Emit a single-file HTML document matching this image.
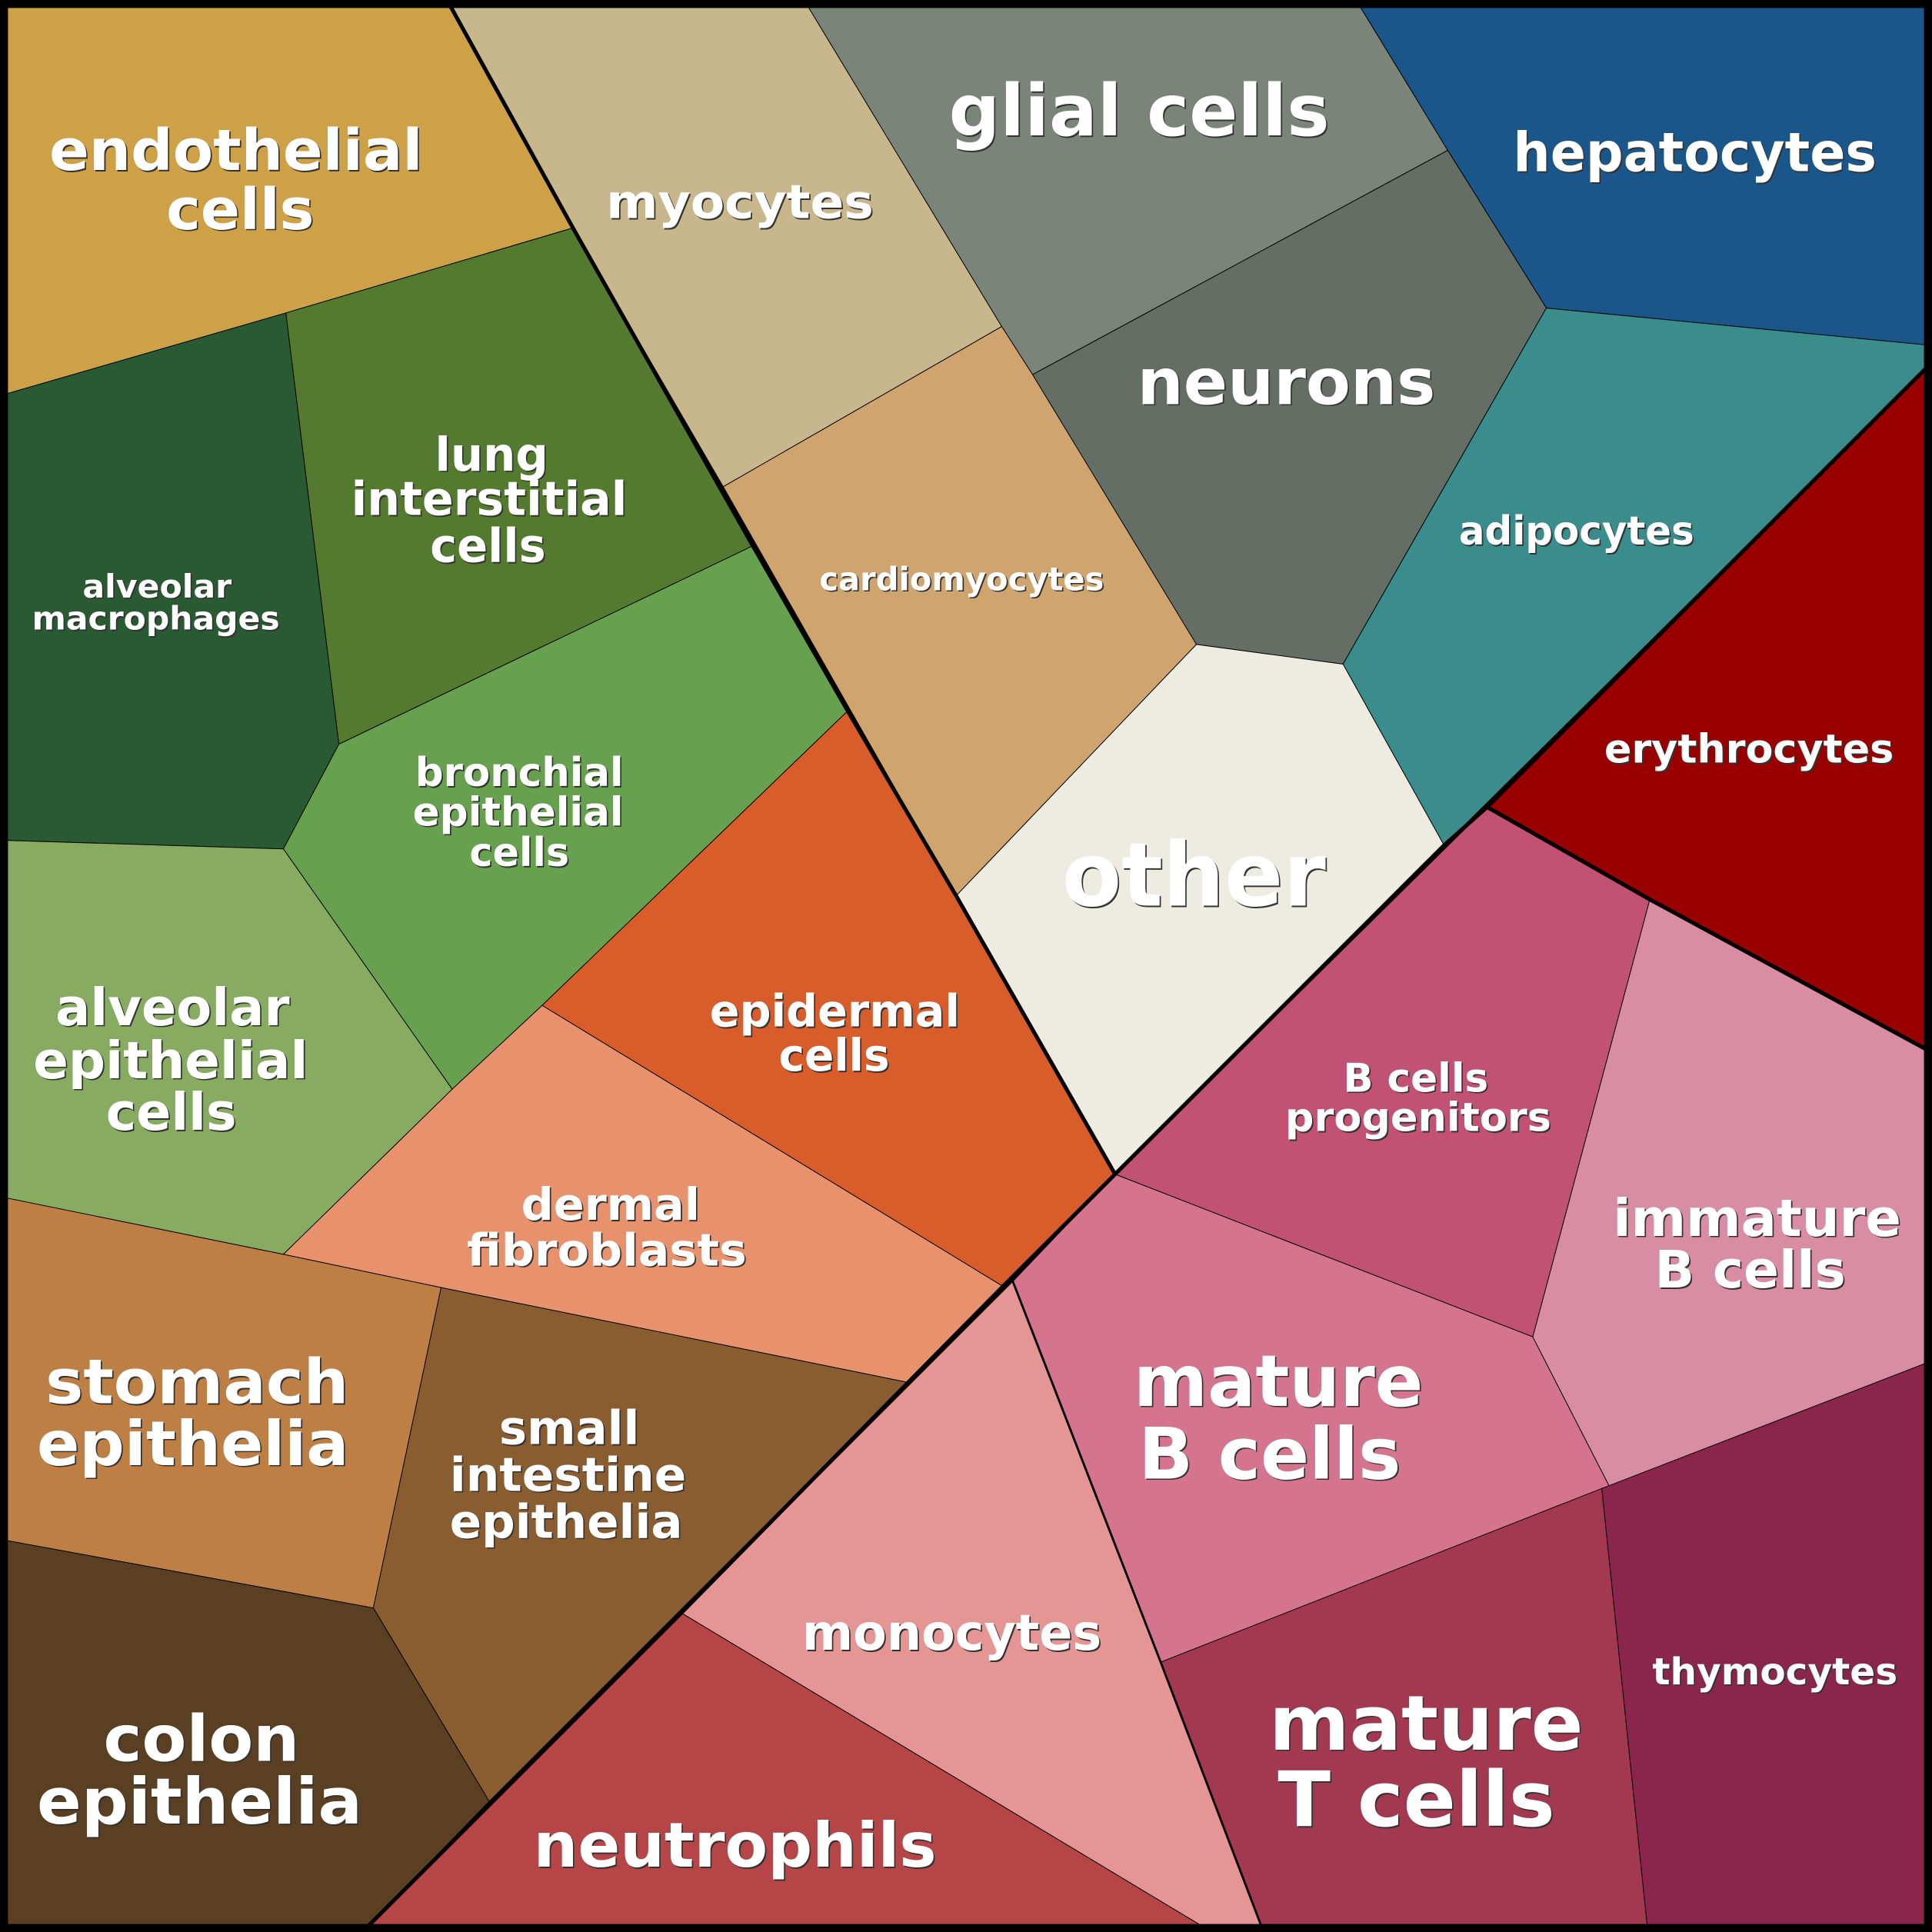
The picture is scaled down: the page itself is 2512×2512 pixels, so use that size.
<!DOCTYPE html>
<html><head><meta charset="utf-8"><style>
html,body{margin:0;padding:0;background:#000}
svg{display:block}
text{font-family:"DejaVu Sans","Liberation Sans",sans-serif;font-weight:bold;text-anchor:start}
</style></head><body>
<svg width="2512" height="2512" viewBox="0 0 1568 1568" xmlns="http://www.w3.org/2000/svg">
<g stroke="#000" stroke-width="0.6" stroke-linejoin="round">
<polygon fill="#cfa147" points="4,4 365,4 465,185 232,254 4,320"/>
<polygon fill="#c8b68c" points="365,4 655,4 813,265 587,395 465,185"/>
<polygon fill="#7b8479" points="655,4 1103,4 1175,122 838,304 813,265"/>
<polygon fill="#1a568a" points="1103,4 1564,4 1564,280 1255,250 1175,122"/>
<polygon fill="#646e64" points="1175,122 1255,250 1090,539 971,523 838,304"/>
<polygon fill="#3a8d8c" points="1255,250 1564,280 1564,298 1172,686 1090,539"/>
<polygon fill="#980000" points="1564,298 1207,655 1339,730 1564,852"/>
<polygon fill="#cfa46f" points="813,265 838,304 971,523 776,727 587,395"/>
<polygon fill="#eeece1" points="971,523 1090,539 1172,686 905,953 776,727"/>
<polygon fill="#547a2f" points="232,254 465,185 611,443 275,604"/>
<polygon fill="#2a5a32" points="4,320 232,254 275,604 230,689 4,682"/>
<polygon fill="#67a150" points="275,604 611,443 688,577 440,816 367,884 230,689"/>
<polygon fill="#87ac61" points="4,682 230,689 367,884 230,1018 4,972"/>
<polygon fill="#d95d2a" points="688,577 776,727 905,953 814,1044 440,816"/>
<polygon fill="#e8916d" points="440,816 814,1044 737,1122 358,1045 230,1018 367,884"/>
<polygon fill="#bd7f44" points="4,972 230,1018 358,1045 303,1305 4,1250"/>
<polygon fill="#8a5d31" points="358,1045 737,1122 397,1462 303,1305"/>
<polygon fill="#5a3f22" points="4,1250 303,1305 397,1462 298,1564 4,1564"/>
<polygon fill="#b54546" points="298,1564 553,1309 977,1564"/>
<polygon fill="#e69595" points="553,1309 822,1040 942,1349 1024,1564 977,1564"/>
<polygon fill="#c25273" points="905,953 1207,655 1339,730 1244,1085"/>
<polygon fill="#d4748f" points="822,1040 905,953 1244,1085 1306,1206 942,1349"/>
<polygon fill="#d98da4" points="1339,730 1564,852 1564,1106 1306,1206 1244,1085"/>
<polygon fill="#a33851" points="942,1349 1300,1208 1337,1564 1024,1564"/>
<polygon fill="#8a254b" points="1300,1208 1564,1106 1564,1564 1337,1564"/>
</g>
<g fill="none" stroke="#000" stroke-width="1.8">
<polyline points="822,1040 942,1349 1024,1564"/>
</g>
<g fill="none" stroke="#000" stroke-width="3.2" stroke-linejoin="round">
<polyline points="365,4 465,185 611,443 688,577 776,727 905,953"/>
<polyline points="298,1564 553,1309 737,1122 814,1044 905,953 1172,686 1207,655 1564,298"/>
<polyline points="1207,655 1339,730 1564,852"/>
</g>
<rect x="3" y="3" width="1562" height="1562" fill="none" stroke="#000" stroke-width="7"/>
<defs>
<g id="T">
<text x="40" y="138" font-size="46" textLength="303" lengthAdjust="spacingAndGlyphs">endothelial</text>
<text x="135" y="186" font-size="46" textLength="120" lengthAdjust="spacingAndGlyphs">cells</text>
<text x="492" y="177" font-size="38" textLength="217" lengthAdjust="spacingAndGlyphs">myocytes</text>
<text x="770" y="110" font-size="58" textLength="309" lengthAdjust="spacingAndGlyphs">glial cells</text>
<text x="1228" y="139" font-size="44" textLength="295" lengthAdjust="spacingAndGlyphs">hepatocytes</text>
<text x="923" y="328" font-size="52" textLength="242" lengthAdjust="spacingAndGlyphs">neurons</text>
<text x="1184" y="442" font-size="32" textLength="191" lengthAdjust="spacingAndGlyphs">adipocytes</text>
<text x="1302" y="619" font-size="32" textLength="235" lengthAdjust="spacingAndGlyphs">erythrocytes</text>
<text x="665" y="479" font-size="26" textLength="231" lengthAdjust="spacingAndGlyphs">cardiomyocytes</text>
<text x="862" y="735" font-size="72" textLength="214" lengthAdjust="spacingAndGlyphs">other</text>
<text x="353" y="382" font-size="38" textLength="92" lengthAdjust="spacingAndGlyphs">lung</text>
<text x="285" y="418" font-size="38" textLength="224" lengthAdjust="spacingAndGlyphs">interstitial</text>
<text x="349" y="456" font-size="38" textLength="94" lengthAdjust="spacingAndGlyphs">cells</text>
<text x="67" y="485" font-size="26" textLength="121" lengthAdjust="spacingAndGlyphs">alveolar</text>
<text x="26" y="511" font-size="26" textLength="201" lengthAdjust="spacingAndGlyphs">macrophages</text>
<text x="337" y="638" font-size="32" textLength="169" lengthAdjust="spacingAndGlyphs">bronchial</text>
<text x="335" y="670" font-size="32" textLength="171" lengthAdjust="spacingAndGlyphs">epithelial</text>
<text x="381" y="703" font-size="32" textLength="81" lengthAdjust="spacingAndGlyphs">cells</text>
<text x="45" y="832" font-size="42" textLength="190" lengthAdjust="spacingAndGlyphs">alveolar</text>
<text x="27" y="875" font-size="42" textLength="223" lengthAdjust="spacingAndGlyphs">epithelial</text>
<text x="86" y="917" font-size="42" textLength="106" lengthAdjust="spacingAndGlyphs">cells</text>
<text x="576" y="833" font-size="36" textLength="203" lengthAdjust="spacingAndGlyphs">epidermal</text>
<text x="632" y="869" font-size="36" textLength="90" lengthAdjust="spacingAndGlyphs">cells</text>
<text x="423" y="990" font-size="36" textLength="145" lengthAdjust="spacingAndGlyphs">dermal</text>
<text x="379" y="1027" font-size="36" textLength="227" lengthAdjust="spacingAndGlyphs">fibroblasts</text>
<text x="37" y="1139" font-size="50" textLength="246" lengthAdjust="spacingAndGlyphs">stomach</text>
<text x="30" y="1189" font-size="50" textLength="253" lengthAdjust="spacingAndGlyphs">epithelia</text>
<text x="405" y="1172" font-size="38" textLength="114" lengthAdjust="spacingAndGlyphs">small</text>
<text x="365" y="1210" font-size="38" textLength="192" lengthAdjust="spacingAndGlyphs">intestine</text>
<text x="365" y="1248" font-size="38" textLength="189" lengthAdjust="spacingAndGlyphs">epithelia</text>
<text x="84" y="1429" font-size="52" textLength="159" lengthAdjust="spacingAndGlyphs">colon</text>
<text x="30" y="1480" font-size="52" textLength="264" lengthAdjust="spacingAndGlyphs">epithelia</text>
<text x="433" y="1515" font-size="50" textLength="327" lengthAdjust="spacingAndGlyphs">neutrophils</text>
<text x="651" y="1339" font-size="40" textLength="243" lengthAdjust="spacingAndGlyphs">monocytes</text>
<text x="1090" y="886" font-size="32" textLength="118" lengthAdjust="spacingAndGlyphs">B cells</text>
<text x="1043" y="918" font-size="32" textLength="216" lengthAdjust="spacingAndGlyphs">progenitors</text>
<text x="1309" y="1003" font-size="42" textLength="234" lengthAdjust="spacingAndGlyphs">immature</text>
<text x="1343" y="1045" font-size="42" textLength="155" lengthAdjust="spacingAndGlyphs">B cells</text>
<text x="920" y="1141" font-size="58" textLength="235" lengthAdjust="spacingAndGlyphs">mature</text>
<text x="924" y="1200" font-size="58" textLength="213" lengthAdjust="spacingAndGlyphs">B cells</text>
<text x="1030" y="1420" font-size="62" textLength="255" lengthAdjust="spacingAndGlyphs">mature</text>
<text x="1037" y="1482" font-size="62" textLength="225" lengthAdjust="spacingAndGlyphs">T cells</text>
<text x="1341" y="1367" font-size="30" textLength="199" lengthAdjust="spacingAndGlyphs">thymocytes</text>
</g>
</defs>
<g fill="#333" transform="translate(1.1,1.1)"><use href="#T"/></g>
<g fill="#ffffff"><use href="#T"/></g>
</svg>
</body></html>
